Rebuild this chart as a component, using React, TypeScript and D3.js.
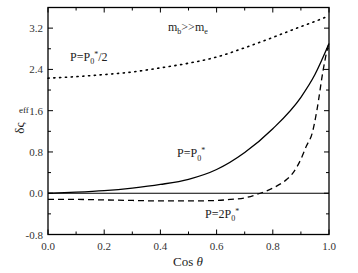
import React from "react";
import * as d3 from "d3";

const cosTheta = [0, 0.1, 0.2, 0.3, 0.4, 0.5, 0.6, 0.7, 0.8, 0.9, 0.95, 1.0];
const halfP = [2.23, 2.26, 2.3, 2.35, 2.43, 2.52, 2.64, 2.82, 3.02, 3.23, 3.33, 3.44];
const fullP = [0, 0.02, 0.05, 0.1, 0.17, 0.27, 0.46, 0.79, 1.25, 1.86, 2.3, 2.9];
const dashX = [0, 0.1, 0.2, 0.3, 0.4, 0.5, 0.6, 0.65, 0.7, 0.75, 0.8, 0.85, 0.87, 0.9, 0.92, 0.94, 0.957, 0.979, 0.996, 1.0];
const doubleP = [-0.12, -0.12, -0.13, -0.14, -0.15, -0.15, -0.14, -0.12, -0.09, -0.01, 0.1, 0.27, 0.38, 0.66, 0.92, 1.16, 1.61, 2.38, 2.83, 2.9];
const xTicks = [0, 0.2, 0.4, 0.6, 0.8, 1.0];
const xMinor = [0.1, 0.3, 0.5, 0.7, 0.9];
const yTicks = [-0.8, 0, 0.8, 1.6, 2.4, 3.2];
const yMinor = [-0.4, 0.4, 1.2, 2.0, 2.8];

export default function App() {
  const W = 358, H = 273;
  const x = d3.scaleLinear().domain([0, 1]).range([48, 329]);
  const y = d3.scaleLinear().domain([-0.8, 3.6]).range([234.5, 7.5]);
  const [x0, x1] = x.range();
  const [y0, y1] = y.range();
  const line = d3.line<[number, number]>().x(d => x(d[0])).y(d => y(d[1])).curve(d3.curveMonotoneX);
  const dotted = line(cosTheta.map((c, i) => [c, halfP[i]]));
  const solid = line(cosTheta.map((c, i) => [c, fullP[i]]));
  const dashed = line(dashX.map((c, i) => [c, doubleP[i]]));
  const font = "\"Liberation Serif\", \"DejaVu Serif\", serif";
  const major = 5, minor = 3;
  const ts = { fontFamily: font };
  return (
    <svg width={W} height={H} style={{ position: "absolute", left: 0, top: 0, background: "#fff" }}>
      <rect x={0} y={0} width={W} height={H} fill="#fff" />
      <line x1={x0} x2={x1} y1={y(0)} y2={y(0)} stroke="#000" strokeWidth={1.2} />
      <path d={dotted || ""} fill="none" stroke="#000" strokeWidth={1.6} strokeDasharray="1.2 4.6" strokeLinecap="round" />
      <path d={solid || ""} fill="none" stroke="#000" strokeWidth={1.3} />
      <path d={dashed || ""} fill="none" stroke="#000" strokeWidth={1.3} strokeDasharray="6 4" />
      <rect x={x0} y={y1} width={x1 - x0} height={y0 - y1} fill="none" stroke="#000" strokeWidth={1.3} />
      {xTicks.map(t => (
        <g key={"xt" + t}>
          <line x1={x(t)} x2={x(t)} y1={y0} y2={y0 - major} stroke="#000" />
          <line x1={x(t)} x2={x(t)} y1={y1} y2={y1 + major} stroke="#000" />
          <text x={x(t)} y={250} fontSize={11} textAnchor="middle" fill="#333" style={ts}>{t.toFixed(1)}</text>
        </g>
      ))}
      {xMinor.map(t => (
        <g key={"xm" + t}>
          <line x1={x(t)} x2={x(t)} y1={y0} y2={y0 - minor} stroke="#000" />
          <line x1={x(t)} x2={x(t)} y1={y1} y2={y1 + minor} stroke="#000" />
        </g>
      ))}
      {yTicks.map(t => (
        <g key={"yt" + t}>
          <line x1={x0} x2={x0 + major} y1={y(t)} y2={y(t)} stroke="#000" />
          <line x1={x1} x2={x1 - major} y1={y(t)} y2={y(t)} stroke="#000" />
          <text x={43} y={y(t) + 4} fontSize={11} textAnchor="end" fill="#333" style={ts}>{t.toFixed(1)}</text>
        </g>
      ))}
      {yMinor.map(t => (
        <g key={"ym" + t}>
          <line x1={x0} x2={x0 + minor} y1={y(t)} y2={y(t)} stroke="#000" />
          <line x1={x1} x2={x1 - minor} y1={y(t)} y2={y(t)} stroke="#000" />
        </g>
      ))}
      <text x={188} y={266} fontSize={13} textAnchor="middle" fill="#222" style={ts}>Cos <tspan fontStyle="italic">θ</tspan></text>
      <text transform="translate(24,128) rotate(-90)" fontSize={13} textAnchor="middle" fill="#222" style={ts}>δς</text>
      <text x={19} y={113} fontSize={9} fill="#222" style={ts}>eff</text>
      <text x={168} y={31} fontSize={12} fill="#222" style={ts}>m<tspan fontSize={8} dy={3}>b</tspan><tspan dy={-3}>&gt;&gt;m</tspan><tspan fontSize={8} dy={3}>e</tspan></text>
      <text x={70} y={61} fontSize={12} fill="#222" style={ts}>P=P<tspan fontSize={8} dy={3}>0</tspan><tspan fontSize={8} dy={-7}>*</tspan><tspan dy={4}>/2</tspan></text>
      <text x={177} y={157} fontSize={12} fill="#222" style={ts}>P=P<tspan fontSize={8} dy={4}>0</tspan><tspan fontSize={8} dy={-8}>*</tspan></text>
      <text x={205} y={218} fontSize={12} fill="#222" style={ts}>P=2P<tspan fontSize={8} dy={3}>0</tspan><tspan fontSize={8} dy={-7}>*</tspan></text>
    </svg>
  );
}
